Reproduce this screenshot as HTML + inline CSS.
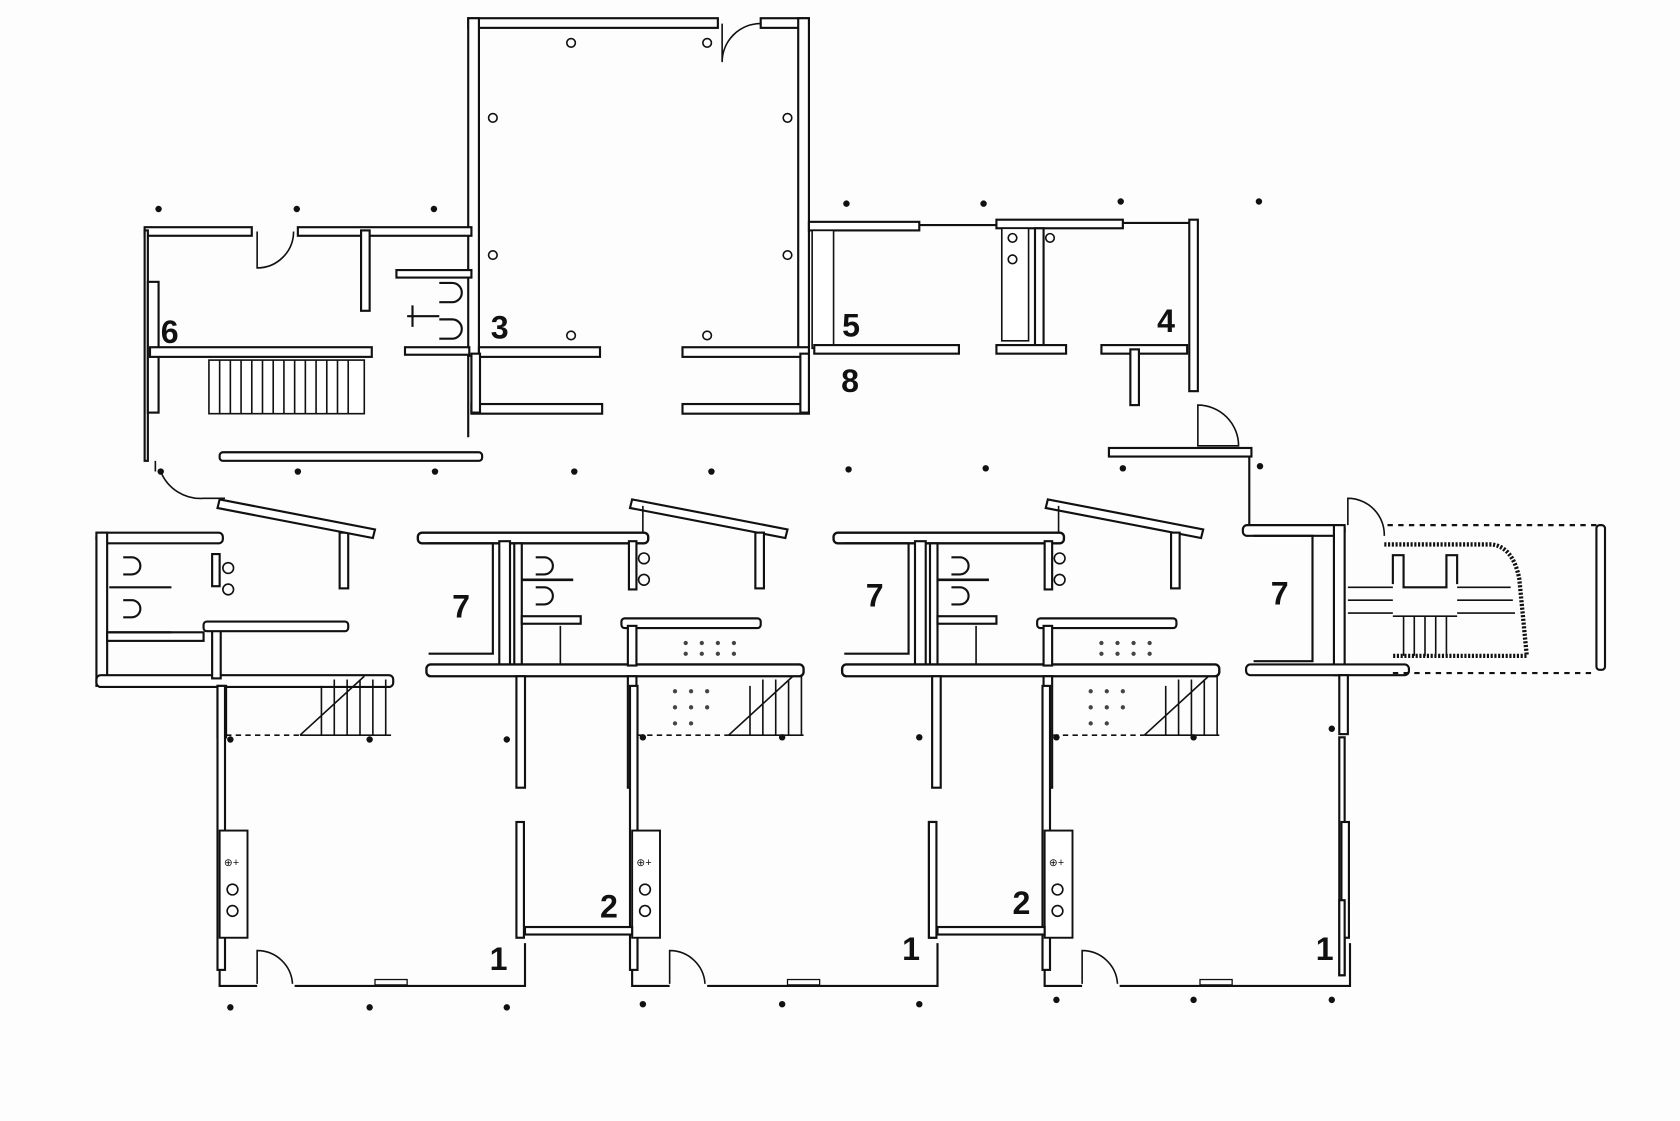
<!DOCTYPE html>
<html><head><meta charset="utf-8"><style>
html,body{margin:0;padding:0;background:#fff;}
svg{display:block}
text{font-family:"Liberation Sans",sans-serif;font-weight:bold;font-size:30px;fill:#111}
</style></head><body>
<svg width="1680" height="1121" viewBox="0 0 1568 1046" preserveAspectRatio="none" xmlns="http://www.w3.org/2000/svg">
<rect width="1568" height="1046" fill="#fdfdfd"/>
<defs>
<g id="unit">
 <!-- wet core unit, origin at x=390 -->
 <rect x="390" y="497" width="215" height="10" rx="4" fill="#fff" stroke="#111" stroke-width="2.2"/>
 <path d="M400 507 H460 V610 H400" fill="none" stroke="#111" stroke-width="2"/>
 <rect x="466" y="505" width="10" height="118" fill="#fff" stroke="#111" stroke-width="2"/>
 <rect x="480" y="507" width="7" height="114" fill="#fff" stroke="#111" stroke-width="2"/>
 <rect x="398" y="620" width="352" height="11" rx="4" fill="#fff" stroke="#111" stroke-width="2.2"/>
 <path d="M500 520 h8 a8 8 0 0 1 0 16 h-8 M500 548 h8 a8 8 0 0 1 0 16 h-8" fill="none" stroke="#111" stroke-width="2"/>
 <line x1="487" y1="541" x2="535" y2="541" stroke="#111" stroke-width="2.5"/>
 <rect x="487" y="575" width="55" height="7" fill="#fff" stroke="#111" stroke-width="2"/>
 <line x1="523" y1="584" x2="523" y2="620" stroke="#111" stroke-width="1.5"/>
 <rect x="587" y="505" width="7" height="45" fill="#fff" stroke="#111" stroke-width="2"/>
 <circle cx="601" cy="521" r="5" fill="none" stroke="#111" stroke-width="1.5"/>
 <circle cx="601" cy="541" r="5" fill="none" stroke="#111" stroke-width="1.5"/>
 <polygon points="590,466 735,494 733,502 588,474" fill="#fff" stroke="#111" stroke-width="2"/>
 <line x1="600" y1="472" x2="600" y2="497" stroke="#111" stroke-width="1.5"/>
 <rect x="705" y="497" width="8" height="52" fill="#fff" stroke="#111" stroke-width="2"/>
 <rect x="580" y="577" width="130" height="9" rx="3" fill="#fff" stroke="#111" stroke-width="2"/>
 <rect x="586" y="584" width="8" height="37" fill="#fff" stroke="#111" stroke-width="2"/>
 <g fill="#444"><circle cx="640" cy="600" r="2"/><circle cx="655" cy="600" r="2"/><circle cx="670" cy="600" r="2"/><circle cx="685" cy="600" r="2"/><circle cx="640" cy="610" r="2"/><circle cx="655" cy="610" r="2"/><circle cx="670" cy="610" r="2"/><circle cx="685" cy="610" r="2"/><circle cx="630" cy="645" r="2"/><circle cx="645" cy="645" r="2"/><circle cx="660" cy="645" r="2"/><circle cx="630" cy="660" r="2"/><circle cx="645" cy="660" r="2"/><circle cx="660" cy="660" r="2"/><circle cx="630" cy="675" r="2"/><circle cx="645" cy="675" r="2"/></g>
 <path d="M680 686 L740 631 M700 640 V686 M712 634 V686 M724 634 V686 M736 634 V686 M748 631 V686 M680 686 H750" stroke="#111" stroke-width="1.5" fill="none"/>
 <path d="M595 686 H680" stroke="#111" stroke-width="1.5" stroke-dasharray="5 4"/>
 <rect x="482" y="631" width="8" height="104" fill="#fff" stroke="#111" stroke-width="2"/>
 <rect x="586" y="631" width="8" height="104" fill="#fff" stroke="#111" stroke-width="2"/>
</g>
<g id="lower">
 <!-- origin at x=203 -->
 <rect x="203" y="640" width="7" height="265" fill="#fff" stroke="#111" stroke-width="2"/>
 <rect x="205" y="775" width="26" height="100" fill="#fff" stroke="#111" stroke-width="1.8"/>
 <circle cx="217" cy="830" r="5" fill="none" stroke="#111" stroke-width="1.5"/>
 <circle cx="217" cy="850" r="5" fill="none" stroke="#111" stroke-width="1.5"/>
 <text x="209" y="808" style="font-size:10px;font-weight:normal">⊕+</text>
 <path d="M205 905 V920 H240 M275 920 H490 V880" fill="none" stroke="#111" stroke-width="2"/>
 <path d="M240 918 V887 A33 33 0 0 1 273 918" fill="none" stroke="#111" stroke-width="1.5"/>
 <rect x="350" y="914" width="30" height="5" fill="#fff" stroke="#111" stroke-width="1.2"/>
 <rect x="482" y="767" width="7" height="108" fill="#fff" stroke="#111" stroke-width="2"/>
</g>
</defs>

<g stroke="#111" stroke-width="2" fill="#fff">
<!-- top hall -->
<rect x="437" y="17" width="233" height="9"/>
<rect x="710" y="17" width="45" height="9"/>
<path d="M710 22 A36 36 0 0 0 674 58 V22" fill="none" stroke-width="1.5"/>
<rect x="437" y="17" width="10" height="315"/>
<rect x="745" y="17" width="10" height="315"/>
<line x1="437" y1="330" x2="437" y2="408" fill="none"/>
<!-- left wing -->
<rect x="135" y="212" width="100" height="8"/>
<rect x="278" y="212" width="162" height="8"/>
<path d="M240 216 V250 A34 34 0 0 0 274 216" fill="none" stroke-width="1.5"/>
<rect x="337" y="215" width="8" height="75"/>
<rect x="135" y="215" width="3" height="215"/>
<rect x="138" y="263" width="10" height="122"/>
<rect x="140" y="324" width="207" height="9"/>
<rect x="370" y="252" width="70" height="7"/>
<rect x="378" y="324" width="60" height="7"/>
<path d="M410 264 h12 a9 9 0 0 1 0 18 h-12 M410 298 h12 a9 9 0 0 1 0 18 h-12 M385 285 v20 M380 295 h30" fill="none"/>
<rect x="447" y="324" width="113" height="9"/>
<rect x="440" y="377" width="122" height="9"/>
<rect x="440" y="330" width="8" height="55"/>
<rect x="637" y="324" width="118" height="9"/>
<rect x="637" y="377" width="118" height="9"/>
<rect x="747" y="330" width="8" height="55"/>
<!-- right wing -->
<rect x="755" y="207" width="103" height="8"/>
<line x1="858" y1="210" x2="930" y2="210"/>
<rect x="930" y="205" width="118" height="8"/>
<line x1="1048" y1="208" x2="1110" y2="208"/>
<rect x="1110" y="205" width="8" height="160"/>
<rect x="758" y="215" width="20" height="110" stroke-width="1.5"/>
<rect x="760" y="322" width="135" height="8"/>
<rect x="935" y="213" width="25" height="105" stroke-width="1.5"/>
<rect x="966" y="213" width="8" height="112"/>
<rect x="930" y="322" width="65" height="8"/>
<rect x="1028" y="322" width="80" height="8"/>
<rect x="1055" y="326" width="8" height="52"/>
<path d="M1118 378 A38 38 0 0 1 1156 416 H1118 Z" fill="none" stroke-width="1.5"/>
<!-- corridor -->
<rect x="205" y="422" width="245" height="8" rx="3"/>
<rect x="1035" y="418" width="133" height="8"/>
<line x1="1166" y1="425" x2="1166" y2="490"/>
<path d="M145 430 V440 M150 440 A40 40 0 0 0 190 465 H210" fill="none" stroke-width="1.5"/>
<!-- stairs left -->
<rect x="195" y="336" width="145" height="50" stroke-width="1.5"/>
</g>
<g stroke="#111" stroke-width="1.5">
<path d="M205 336V386M215 336V386M225 336V386M235 336V386M245 336V386M255 336V386M265 336V386M275 336V386M285 336V386M295 336V386M305 336V386M315 336V386M325 336V386"/>
</g>
<!-- columns on hall -->
<g fill="#fff" stroke="#111" stroke-width="1.5">
<circle cx="533" cy="40" r="4"/><circle cx="660" cy="40" r="4"/><circle cx="460" cy="110" r="4"/><circle cx="735" cy="110" r="4"/><circle cx="460" cy="238" r="4"/><circle cx="735" cy="238" r="4"/><circle cx="533" cy="313" r="4"/><circle cx="660" cy="313" r="4"/><circle cx="945" cy="222" r="4"/><circle cx="945" cy="242" r="4"/><circle cx="980" cy="222" r="4"/>
</g>
<!-- unit A (first) -->
<g fill="#fff" stroke="#111" stroke-width="2">
<rect x="90" y="497" width="118" height="10" rx="4"/>
<rect x="90" y="497" width="10" height="143"/>
<rect x="90" y="630" width="277" height="11" rx="4"/>
<rect x="100" y="590" width="90" height="8"/>
<rect x="198" y="588" width="8" height="45"/>
<rect x="198" y="517" width="7" height="30"/>
<rect x="190" y="580" width="135" height="9" rx="3"/>
<rect x="317" y="497" width="8" height="52"/>
<polygon points="205,466 350,494 348,502 203,474"/>
<rect x="203" y="640" width="8" height="48"/>
</g>
<path d="M115 520 h8 a8 8 0 0 1 0 16 h-8 M115 560 h8 a8 8 0 0 1 0 16 h-8 M102 548 H160 M102 590 H160" fill="none" stroke="#111" stroke-width="2"/>
<circle cx="213" cy="530" r="5" fill="none" stroke="#111" stroke-width="1.5"/><circle cx="213" cy="550" r="5" fill="none" stroke="#111" stroke-width="1.5"/>
<path d="M280 686 L340 631 M300 640V686M312 634V686M324 634V686M336 634V686M348 634V686M360 634V686 M280 686H365" stroke="#111" stroke-width="1.5" fill="none"/>
<path d="M211 686H280" stroke="#111" stroke-width="1.5" stroke-dasharray="5 4"/>
<use href="#unit"/>
<use href="#unit" transform="translate(388,0)"/>
<!-- unit D with stair -->
<g fill="#fff" stroke="#111" stroke-width="2">
<rect x="1160" y="490" width="95" height="10" rx="4"/>
<path d="M1170 500 H1225 V617 H1170" fill="none"/>
<rect x="1245" y="490" width="10" height="140"/>
<rect x="1163" y="620" width="152" height="10" rx="4"/>
<path d="M1258 490 V465 A34 34 0 0 1 1292 500" fill="none" stroke-width="1.5"/>
<path d="M1292 508 H1392 Q1412 510 1418 540 L1425 612 H1300" fill="none" stroke-width="4" stroke-dasharray="2 1.5"/>
<path d="M1300 545 V518 h10 v30 h40 v-30 h10 v27" fill="none"/>
<rect x="1490" y="490" width="8" height="135" rx="3"/>
<rect x="1250" y="630" width="8" height="55"/>
<rect x="1250" y="688" width="5" height="222"/>
</g>
<path d="M1258 548 H1300 M1258 560 H1300 M1258 572 H1300 M1360 548 H1410 M1360 560 H1412 M1360 572 H1414 M1310 575V612M1320 575V612M1330 575V612M1340 575V612M1350 575V612 M1300 575 H1360" stroke="#111" stroke-width="1.5" fill="none"/>
<path d="M1295 490 H1490 M1300 628 H1490" stroke="#111" stroke-width="2" stroke-dasharray="5 5"/>
<use href="#lower"/>
<use href="#lower" transform="translate(385,0)"/>
<use href="#lower" transform="translate(770,0)"/>
<g fill="#fff" stroke="#111" stroke-width="2">
<rect x="490" y="865" width="100" height="7"/>
<rect x="875" y="865" width="100" height="7"/>
<rect x="867" y="767" width="7" height="108"/>
<rect x="1250" y="840" width="5" height="70"/>
</g>
<!-- grid dots -->
<g fill="#111">
<circle cx="148" cy="195" r="3"/><circle cx="277" cy="195" r="3"/><circle cx="405" cy="195" r="3"/><circle cx="790" cy="190" r="3"/><circle cx="918" cy="190" r="3"/><circle cx="1046" cy="188" r="3"/><circle cx="1175" cy="188" r="3"/>
<circle cx="150" cy="440" r="3"/><circle cx="278" cy="440" r="3"/><circle cx="406" cy="440" r="3"/><circle cx="536" cy="440" r="3"/><circle cx="664" cy="440" r="3"/><circle cx="792" cy="438" r="3"/><circle cx="920" cy="437" r="3"/><circle cx="1048" cy="437" r="3"/><circle cx="1176" cy="435" r="3"/>
<circle cx="215" cy="690" r="3"/><circle cx="345" cy="690" r="3"/><circle cx="473" cy="690" r="3"/><circle cx="600" cy="688" r="3"/><circle cx="730" cy="688" r="3"/><circle cx="858" cy="688" r="3"/><circle cx="986" cy="688" r="3"/><circle cx="1114" cy="688" r="3"/><circle cx="1243" cy="680" r="3"/>
<circle cx="215" cy="940" r="3"/><circle cx="345" cy="940" r="3"/><circle cx="473" cy="940" r="3"/><circle cx="600" cy="937" r="3"/><circle cx="730" cy="937" r="3"/><circle cx="858" cy="937" r="3"/><circle cx="986" cy="933" r="3"/><circle cx="1114" cy="933" r="3"/><circle cx="1243" cy="933" r="3"/>
</g>
<!-- labels -->
<text x="150" y="320">6</text>
<text x="458" y="316">3</text>
<text x="786" y="314">5</text>
<text x="785" y="366">8</text>
<text x="1080" y="310">4</text>
<text x="422" y="576">7</text>
<text x="808" y="566">7</text>
<text x="1186" y="564">7</text>
<text x="457" y="905">1</text>
<text x="560" y="856">2</text>
<text x="842" y="896">1</text>
<text x="945" y="853">2</text>
<text x="1228" y="896">1</text>
</svg>
</body></html>
